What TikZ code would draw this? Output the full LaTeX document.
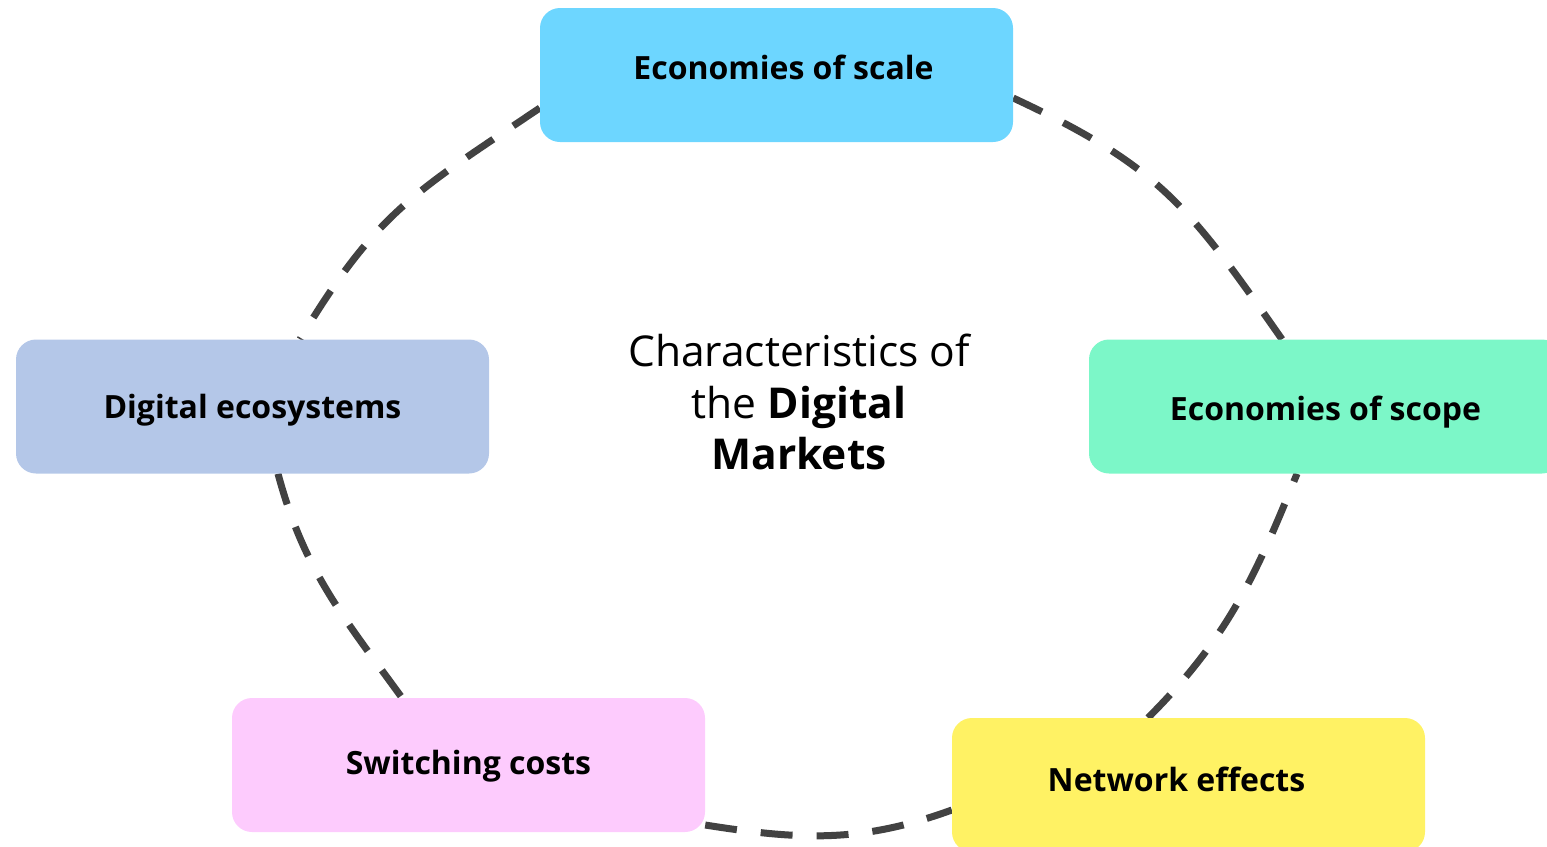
\documentclass[tikz,border=0pt]{standalone}
\usepackage{fontspec}
\setmainfont{Open Sans}
\usetikzlibrary{backgrounds}

\definecolor{scaleblue}{HTML}{6DD6FF}
\definecolor{ecoblue}{HTML}{B4C7E8}
\definecolor{scopegreen}{HTML}{7CF7C8}
\definecolor{switchpink}{HTML}{FDCBFD}
\definecolor{netyellow}{HTML}{FFF264}
\definecolor{ringgray}{HTML}{424242}

\tikzset{
  card/.style={rounded corners=20pt, minimum width=473pt, minimum height=134pt,
    inner sep=0pt, text height=9pt, text depth=0pt,
    font=\fontsize{32}{38}\selectfont\bfseries},
  ring/.style={draw=ringgray, line width=7pt, dash pattern=on 32pt off 24pt},
}

\begin{document}
\begin{tikzpicture}[x=1pt,y=-1pt]
  \useasboundingbox (0,0) rectangle (1547,846);

  % the five cards
  \node [card, fill=scaleblue] (scale) at (776.5,75) {\hspace*{14pt}Economies of scale};
  \node [card, fill=ecoblue, text height=23pt] (ecos) at (252.5,406.5) {Digital ecosystems};
  \node [card, fill=scopegreen, text height=27pt] (scope) at (1325.5,406.5) {Economies of scope};
  \node [card, fill=switchpink, text height=19pt] (switch) at (468.5,765) {Switching costs};
  \node [card, fill=netyellow, text height=13pt] (net) at (1188.5,785) {Network effects\hspace*{24pt}};

  % title in the middle
  \node [align=center, font=\fontsize{42.5}{51.5}\selectfont] (title) at (799,402)
    {Characteristics of\\the \textbf{Digital}\\\textbf{Markets}};

  % dashed ring, behind the cards
  \begin{scope}[on background layer]
    \draw [ring] ([yshift=-33pt]scale.west) to [out=214,in=59,looseness=1.15] ([xshift=47.5pt]ecos.north);
    \draw [ring] ([xshift=25.5pt]ecos.south) to [out=285,in=126] ([xshift=-66.5pt]switch.north);
    \draw [ring] ([yshift=-60pt]switch.east) to [out=351,in=200] ([yshift=-25pt]net.west);
    \draw [ring] ([xshift=-40.5pt]net.north) to [out=45,in=248] ([xshift=-28.5pt]scope.south);
    \draw [ring] ([xshift=-43.5pt]scope.north) to [out=125,in=335,looseness=1.15] ([yshift=-23pt]scale.east);
  \end{scope}
\end{tikzpicture}
\end{document}
